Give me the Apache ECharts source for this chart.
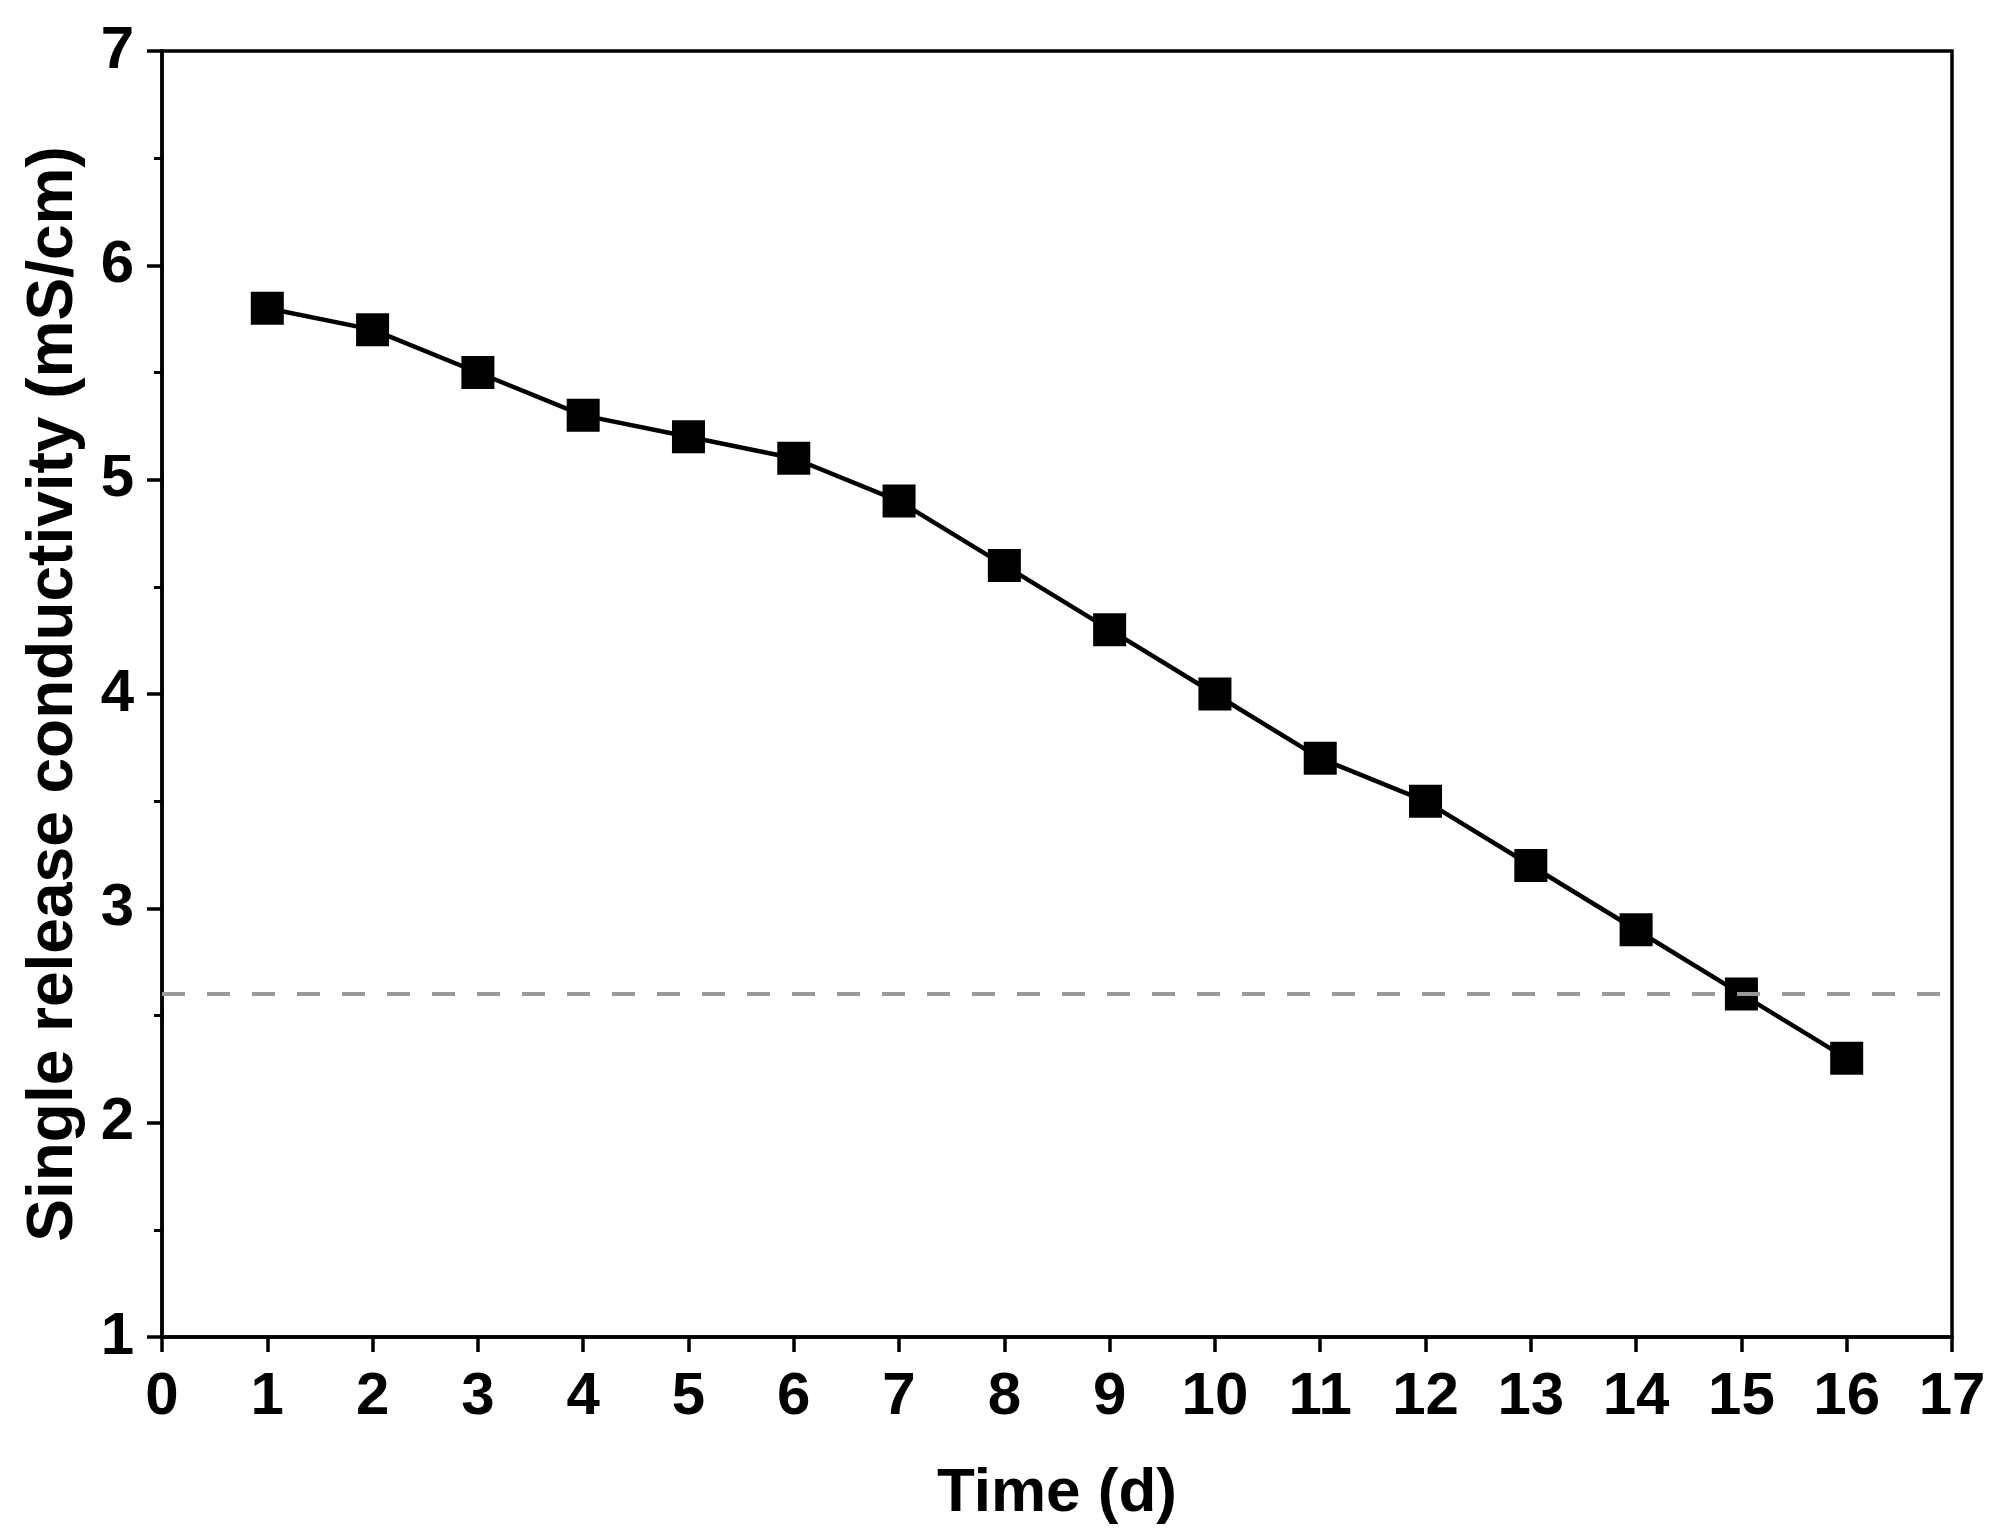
<!DOCTYPE html>
<html>
<head>
<meta charset="utf-8">
<script src="https://cdn.jsdelivr.net/npm/echarts@6/dist/echarts.min.js"></script>
<style>html,body{margin:0;padding:0;background:#fff;}#c{width:2008px;height:1539px;}</style>
</head>
<body>
<div id="c"></div>
<script>
const days = [1,2,3,4,5,6,7,8,9,10,11,12,13,14,15,16];
const conductivity = [5.8,5.7,5.5,5.3,5.2,5.1,4.9,4.6,4.3,4.0,3.7,3.5,3.2,2.9,2.6,2.3];
const thresholdValue = 2.6;
const xTitle = 'Time (d)';
const yTitle = 'Single release conductivity (mS/cm)';

const font = '"Liberation Sans", Arial, sans-serif';
const chart = echarts.init(document.getElementById('c'), null, {renderer: 'canvas'});
chart.setOption({
  animation: false,
  backgroundColor: '#fff',
  grid: {left: 162, right: 56, top: 51, bottom: 202, show: true, borderColor: '#000', borderWidth: 3.5, containLabel: false},
  xAxis: {
    type: 'value', min: 0, max: 17, interval: 1,
    name: xTitle, nameLocation: 'middle', nameGap: 126,
    nameTextStyle: {fontFamily: font, fontWeight: 'bold', fontSize: 62, color: '#000'},
    axisLine: {show: true, onZero: false, lineStyle: {color: '#000', width: 3.5}},
    axisTick: {show: true, inside: false, length: 15, lineStyle: {color: '#000', width: 3.5}},
    axisLabel: {fontFamily: font, fontWeight: 'bold', fontSize: 60, color: '#000', margin: 30},
    splitLine: {show: false}
  },
  yAxis: {
    type: 'value', min: 1, max: 7, interval: 1,
    name: yTitle, nameLocation: 'middle', nameGap: 76,
    nameTextStyle: {fontFamily: font, fontWeight: 'bold', fontSize: 64, color: '#000'},
    axisLine: {show: true, onZero: false, lineStyle: {color: '#000', width: 3.5}},
    axisTick: {show: true, inside: false, length: 15, lineStyle: {color: '#000', width: 3.5}},
    minorTick: {show: true, splitNumber: 2, length: 8, lineStyle: {color: '#000', width: 3}},
    axisLabel: {fontFamily: font, fontWeight: 'bold', fontSize: 60, color: '#000', margin: 28},
    splitLine: {show: false}
  },
  series: [{
    type: 'line',
    data: days.map((d, i) => [d, conductivity[i]]),
    symbol: 'rect', symbolSize: 33,
    itemStyle: {color: '#000'},
    lineStyle: {color: '#000', width: 4.5},
    markLine: {
      silent: true, symbol: 'none', label: {show: false},
      lineStyle: {color: '#999', width: 4, type: [23, 22]},
      data: [[{coord: [0, thresholdValue]}, {coord: [16.9, thresholdValue]}]]
    }
  }]
});
</script>
</body>
</html>
